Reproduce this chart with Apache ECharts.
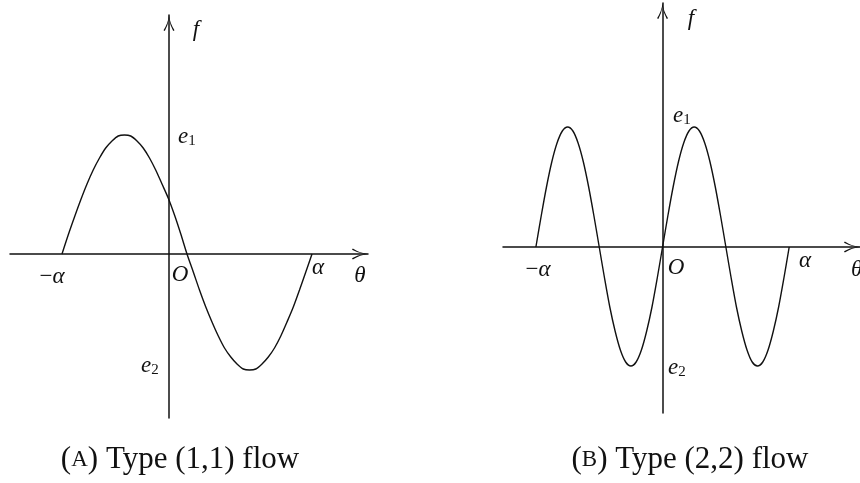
<!DOCTYPE html>
<html><head><meta charset="utf-8">
<script src="https://cdn.jsdelivr.net/npm/echarts@6/dist/echarts.min.js"></script>
<style>html,body{margin:0;padding:0;background:#fff}#c{width:860px;height:483px}</style>
</head><body><div id="c"></div>
<script>
// Panel A: type (1,1) flow — theta and f values (origin-based units)
const thetaA = [-1.07, -1.008, -0.945, -0.883, -0.82, -0.758, -0.695, -0.633, -0.57, -0.508, -0.445, -0.383, -0.32, -0.258, -0.195, -0.133, -0.07, -0.008, 0.055, 0.118, 0.18, 0.243, 0.305, 0.368, 0.43, 0.493, 0.555, 0.618, 0.68, 0.743, 0.805, 0.868, 0.93, 0.993, 1.055, 1.118, 1.18, 1.243, 1.305, 1.368, 1.43];
const fA = [0, 0.19, 0.37, 0.54, 0.70, 0.84, 0.96, 1.06, 1.13, 1.18, 1.19, 1.18, 1.13, 1.06, 0.96, 0.84, 0.70, 0.56, 0.39, 0.20, 0, -0.18, -0.36, -0.53, -0.68, -0.82, -0.94, -1.03, -1.10, -1.15, -1.16, -1.15, -1.10, -1.03, -0.94, -0.82, -0.68, -0.53, -0.36, -0.18, 0];
// Panel B: type (2,2) flow
const thetaB = [-1.27, -1.217, -1.164, -1.111, -1.058, -1.005, -0.952, -0.899, -0.847, -0.794, -0.741, -0.688, -0.635, -0.582, -0.529, -0.476, -0.423, -0.37, -0.317, -0.265, -0.212, -0.159, -0.106, -0.053, 0, 0.053, 0.106, 0.159, 0.212, 0.265, 0.317, 0.37, 0.423, 0.476, 0.529, 0.582, 0.635, 0.688, 0.741, 0.794, 0.847, 0.899, 0.952, 1.005, 1.058, 1.111, 1.164, 1.217, 1.27];
const fB = [0, 0.31, 0.60, 0.85, 1.04, 1.16, 1.20, 1.16, 1.04, 0.85, 0.60, 0.31, 0, -0.31, -0.60, -0.84, -1.03, -1.15, -1.19, -1.15, -1.03, -0.84, -0.60, -0.31, 0, 0.31, 0.60, 0.85, 1.04, 1.16, 1.20, 1.16, 1.04, 0.85, 0.60, 0.31, 0, -0.31, -0.60, -0.84, -1.03, -1.15, -1.19, -1.15, -1.03, -0.84, -0.60, -0.31, 0];
const captions = ['Type (1,1) flow', 'Type (2,2) flow'];
const captionTags = ['A', 'B'];

const INK = '#111';
const chevron = 'path://M5.5,0 Q6.3,8 11,15.2 L9.7,16 Q6.5,10.5 5.5,3.6 Q4.5,10.5 1.3,16 L0,15.2 Q4.7,8 5.5,0 Z';
function axisLine() {
  return { show: true, onZero: true, symbol: ['none', chevron], symbolSize: [12, 16], symbolOffset: [0, -8],
    lineStyle: { color: INK, width: 1.5 } };
}
function ax(idx, min, max) {
  return { type: 'value', gridIndex: idx, min: min, max: max, axisLine: axisLine(),
    axisTick: { show: false }, axisLabel: { show: false }, splitLine: { show: false } };
}
const MF = 'italic 23px "Liberation Serif", serif';
const SF = '15px "Liberation Serif", serif';
const RF = '23px "Liberation Serif", serif';
function t(x, y, text, font, align) {
  return { type: 'text', x: x, y: y, silent: true,
    style: { text: text, font: font, fill: INK, align: align || 'center', verticalAlign: 'middle' } };
}
function sub(x, y, main, s) {
  return [t(x - 4, y, main, MF), t(x + 5, y + 4, s, SF)];
}
function cap(x, y, tag, text) {
  return { type: 'text', x: x, y: y, silent: true,
    style: { text: '{n|(}{s|' + tag + '}{n|) ' + text + '}', align: 'center', verticalAlign: 'middle',
      rich: { n: { font: '31px "Liberation Serif", serif', fill: INK }, s: { font: '23px "Liberation Serif", serif', fill: INK } } } };
}
function minusAlpha(x, y) {
  return { type: 'text', x: x, y: y, silent: true,
    style: { text: '{r|−}{i|α}', align: 'center', verticalAlign: 'middle',
      rich: { r: { font: RF, fill: INK }, i: { font: MF, fill: INK } } } };
}

const chart = echarts.init(document.getElementById('c'), null, { renderer: 'canvas' });
chart.setOption({
  backgroundColor: '#fff',
  animation: false,
  grid: [
    { left: 10, top: 15, width: 358, height: 403 },
    { left: 503, top: 3, width: 358, height: 410 }
  ],
  xAxis: [ax(0, -1.59, 1.99), ax(1, -1.60, 1.98)],
  yAxis: [ax(0, -1.64, 2.39), ax(1, -1.66, 2.44)],
  series: [
    { type: 'line', xAxisIndex: 0, yAxisIndex: 0, data: thetaA.map((v, i) => [v, fA[i]]), smooth: 0.3,
      showSymbol: false, lineStyle: { color: INK, width: 1.4 } },
    { type: 'line', xAxisIndex: 1, yAxisIndex: 1, data: thetaB.map((v, i) => [v, fB[i]]), smooth: 0.3,
      showSymbol: false, lineStyle: { color: INK, width: 1.4 } }
  ],
  graphic: [].concat(
    [t(196, 30, 'f', MF), t(360, 276, 'θ', MF), minusAlpha(52, 277), t(180, 275, 'O', MF), t(318, 268, 'α', MF)],
    sub(187, 137, 'e', '1'), sub(150, 366, 'e', '2'),
    [t(691, 19, 'f', MF), t(851, 270, 'θ', MF, 'left'), minusAlpha(538, 270), t(676, 268, 'O', MF), t(805, 261, 'α', MF)],
    sub(682, 116, 'e', '1'), sub(677, 368, 'e', '2'),
    [cap(180, 460, captionTags[0], captions[0]), cap(690, 460, captionTags[1], captions[1])]
  )
});
</script></body></html>
